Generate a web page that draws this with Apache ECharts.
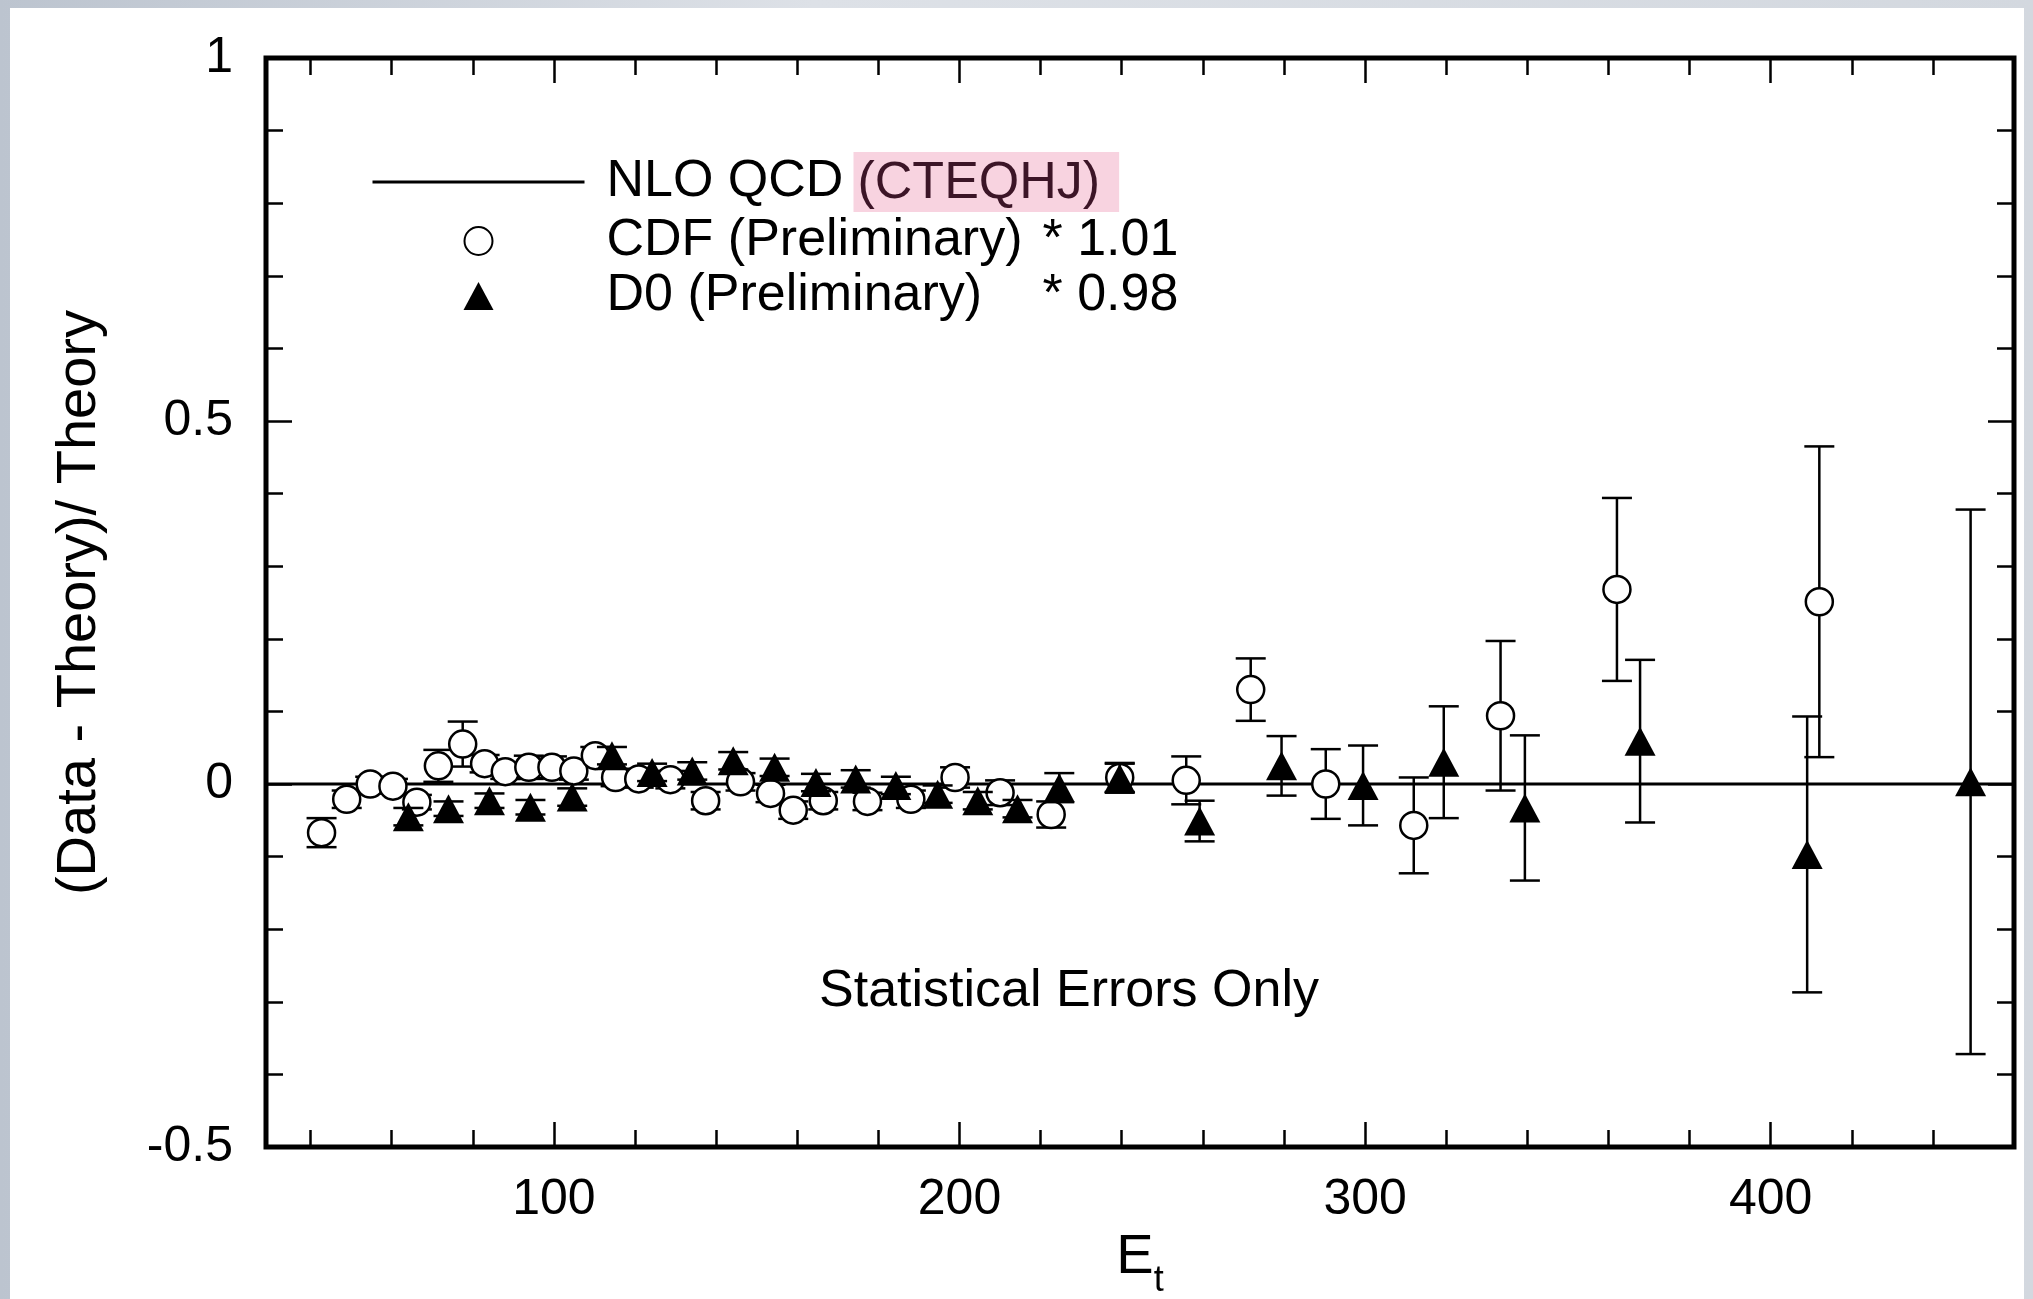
<!DOCTYPE html>
<html>
<head>
<meta charset="utf-8">
<title>(Data - Theory)/ Theory</title>
<script src="https://cdn.jsdelivr.net/npm/echarts@6/dist/echarts.min.js"></script>
<style>
    html, body { margin: 0; padding: 0; width: 2033px; height: 1299px; overflow: hidden; background: linear-gradient(to right, #bcc4cf, #dde1e7 40%, #d3d8df); }
    #paper { position: absolute; left: 10px; top: 8px; width: 2014px; height: 1291px; background: #fff; }
    #main { position: absolute; left: 0; top: 0; width: 2033px; height: 1299px; }
</style>
</head>
<body>
<div id="paper"></div>
<div id="main"></div>
<script>
const font = 'Liberation Sans, Arial, Helvetica, sans-serif'

// NLO QCD 理论线
const theoryEt = [29, 460]
const theoryVal = [0, 0]

// CDF (Preliminary) * 1.01
const cdfEt = [42.7, 48.9, 54.7, 60.3, 66.2, 71.5, 77.5, 82.9, 88.0, 93.8, 99.5, 104.9, 110.2, 115.2, 120.9, 128.7, 137.4, 146.0, 153.4, 159.0, 166.4, 177.3, 188.0, 198.9, 210.0, 222.6, 239.5, 255.9, 271.8, 290.3, 312.0, 333.4, 362.1, 412.0]
const cdfVal = [-0.067, -0.021, 0.0, -0.003, -0.025, 0.025, 0.055, 0.028, 0.017, 0.023, 0.023, 0.018, 0.039, 0.009, 0.007, 0.006, -0.023, 0.003, -0.013, -0.036, -0.023, -0.024, -0.021, 0.009, -0.012, -0.042, 0.009, 0.005, 0.13, 0.0, -0.057, 0.094, 0.268, 0.251]
const cdfErr = [0.02, 0.012, 0.01, 0.01, 0.01, 0.022, 0.031, 0.012, 0.01, 0.016, 0.015, 0.012, 0.012, 0.012, 0.012, 0.012, 0.012, 0.012, 0.012, 0.012, 0.012, 0.012, 0.012, 0.014, 0.017, 0.018, 0.02, 0.033, 0.043, 0.048, 0.066, 0.103, 0.126, 0.214]

// D0 (Preliminary) * 0.98
const d0Et = [64.1, 74.0, 84.1, 94.2, 104.5, 114.3, 124.2, 134.1, 144.2, 154.4, 164.6, 174.4, 184.3, 194.6, 204.5, 214.3, 224.6, 239.5, 259.2, 279.4, 299.5, 319.4, 339.4, 367.8, 409.0, 449.3]
const d0Val = [-0.045, -0.034, -0.023, -0.032, -0.018, 0.039, 0.016, 0.018, 0.032, 0.023, 0.002, 0.007, -0.002, -0.014, -0.023, -0.034, -0.005, 0.008, -0.051, 0.025, -0.002, 0.03, -0.033, 0.059, -0.097, 0.003]
const d0Err = [0.012, 0.01, 0.01, 0.01, 0.012, 0.012, 0.012, 0.012, 0.012, 0.012, 0.012, 0.012, 0.012, 0.012, 0.012, 0.012, 0.02, 0.02, 0.028, 0.041, 0.055, 0.077, 0.1, 0.112, 0.19, 0.375]

// 刻度
const xMajorTicks = [100, 200, 300, 400]
const xMinorTicks = [40, 60, 80, 120, 140, 160, 180, 220, 240, 260, 280, 320, 340, 360, 380, 420, 440]

const nameTheory = 'NLO QCD (CTEQHJ)'
const nameCdf = 'CDF (Preliminary) * 1.01'
const nameD0 = 'D0 (Preliminary) * 0.98'

const legendText = {}
legendText[nameTheory] = '{g| }{n|NLO QCD }{h|(CTEQHJ)}'
legendText[nameCdf] = '{g| }{a|CDF (Preliminary)}{b|* 1.01}'
legendText[nameD0] = '{g| }{a|D0 (Preliminary)}{b|* 0.98}'

function errorBar(params, api) {
    const x = api.value(0)
    const y = api.value(1)
    const e = api.value(2)
    const hi = api.coord([x, y + e])
    const lo = api.coord([x, y - e])
    const w = 15
    const style = { stroke: '#000', lineWidth: 2.5 }
    return {
        type: 'group',
        children: [
            { type: 'line', shape: { x1: hi[0], y1: hi[1], x2: lo[0], y2: lo[1] }, style: style },
            { type: 'line', shape: { x1: hi[0] - w, y1: hi[1], x2: hi[0] + w, y2: hi[1] }, style: style },
            { type: 'line', shape: { x1: lo[0] - w, y1: lo[1], x2: lo[0] + w, y2: lo[1] }, style: style }
        ]
    }
}

const tickLine = { color: '#000', width: 2.5 }
const gridBox = { left: 266, right: 19, top: 58, bottom: 152, outerBoundsMode: 'none', containLabel: false }

// x 轴：主刻度 / 次刻度分在两个重合的 grid 上
function xAxisOf(grid, pos, ticks, len) {
    return {
        gridIndex: grid,
        type: 'value',
        position: pos,
        min: 29,
        max: 460,
        axisLine: { show: false, onZero: false },
        axisTick: { inside: true, length: len, customValues: ticks, lineStyle: tickLine },
        axisLabel: { show: false },
        splitLine: { show: false }
    }
}

const xBottom = xAxisOf(0, 'bottom', xMajorTicks, 25)
xBottom.axisLabel = { show: true, customValues: xMajorTicks, fontFamily: font, fontSize: 50, color: '#000', margin: 28 }
xBottom.name = '{e|E}{s|t}'
xBottom.nameLocation = 'middle'
xBottom.nameGap = 84
xBottom.nameTextStyle = {
    rich: {
        e: { fontFamily: font, fontSize: 56, lineHeight: 56, color: '#000', padding: [0, 0, 26, 0] },
        s: { fontFamily: font, fontSize: 36, lineHeight: 34, color: '#000', verticalAlign: 'bottom' }
    }
}

function yAxisOf(pos) {
    return {
        gridIndex: 0,
        type: 'value',
        position: pos,
        min: -0.5,
        max: 1,
        interval: 0.5,
        axisLine: { show: false, onZero: false },
        axisTick: { inside: true, length: 26, lineStyle: tickLine },
        minorTick: { show: true, splitNumber: 5, length: 17, lineStyle: tickLine },
        axisLabel: { show: false },
        splitLine: { show: false },
        minorSplitLine: { show: false }
    }
}

const yLeft = yAxisOf('left')
yLeft.axisLabel = { show: true, fontFamily: font, fontSize: 50, color: '#000', margin: 33 }
yLeft.name = '(Data - Theory)/ Theory'
yLeft.nameLocation = 'middle'
yLeft.nameGap = 158
yLeft.nameTextStyle = { fontFamily: font, fontSize: 56, color: '#000' }

const chart = echarts.init(document.getElementById('main'), null, { renderer: 'canvas' })

const option = {
    animation: false,
    backgroundColor: 'transparent',
    grid: [
        Object.assign({ show: true, borderWidth: 5, borderColor: '#000', backgroundColor: 'transparent' }, gridBox),
        Object.assign({ show: false }, gridBox)
    ],
    legend: {
        left: 366,
        top: 147,
        orient: 'vertical',
        itemWidth: 212,
        itemHeight: 28,
        itemGap: 3,
        selectedMode: false,
        data: [{
            name: nameTheory,
            itemStyle: { color: 'rgba(0,0,0,0)', borderColor: 'rgba(0,0,0,0)', borderWidth: 0 },
            lineStyle: { color: '#000', width: 3 }
        }, {
            name: nameCdf
        }, {
            name: nameD0,
            icon: 'path://M15,0L30,28L0,28Z'
        }],
        formatter: function (n) {
            return legendText[n]
        },
        textStyle: {
            fontFamily: font,
            fontSize: 52,
            color: '#000',
            rich: {
                g: { width: 17, fontSize: 52 },
                n: { fontFamily: font, fontSize: 52, color: '#000', width: 247 },
                h: { fontFamily: font, fontSize: 52, color: '#3c1527', backgroundColor: '#f8d3e0', padding: [6, 19, 2, 4] },
                a: { fontFamily: font, fontSize: 52, color: '#000', width: 436 },
                b: { fontFamily: font, fontSize: 52, color: '#000' }
            }
        }
    },
    graphic: [{
        type: 'text',
        x: 1069,
        y: 992,
        style: {
            text: 'Statistical Errors Only',
            font: '52px ' + font,
            fill: '#000',
            align: 'center',
            verticalAlign: 'middle'
        }
    }],
    xAxis: [
        xBottom,
        xAxisOf(0, 'top', xMajorTicks, 25),
        xAxisOf(1, 'bottom', xMinorTicks, 17),
        xAxisOf(1, 'top', xMinorTicks, 17)
    ],
    yAxis: [
        yLeft,
        yAxisOf('right'),
        { gridIndex: 1, type: 'value', min: -0.5, max: 1, show: false }
    ],
    series: [{
        name: nameTheory,
        type: 'line',
        xAxisIndex: 0,
        yAxisIndex: 0,
        data: theoryEt.map((x, i) => [x, theoryVal[i]]),
        symbol: 'none',
        lineStyle: { color: '#000', width: 3 },
        itemStyle: { color: '#000' },
        z: 1
    }, {
        name: 'cdf-err',
        type: 'custom',
        xAxisIndex: 0,
        yAxisIndex: 0,
        data: cdfEt.map((x, i) => [x, cdfVal[i], cdfErr[i]]),
        encode: { x: 0, y: 1 },
        renderItem: errorBar,
        z: 2
    }, {
        name: nameCdf,
        type: 'scatter',
        xAxisIndex: 0,
        yAxisIndex: 0,
        data: cdfEt.map((x, i) => [x, cdfVal[i]]),
        symbol: 'circle',
        symbolSize: 27,
        itemStyle: { color: '#fff', borderColor: '#000', borderWidth: 2.5, opacity: 1 },
        z: 3
    }, {
        name: 'd0-err',
        type: 'custom',
        xAxisIndex: 0,
        yAxisIndex: 0,
        data: d0Et.map((x, i) => [x, d0Val[i], d0Err[i]]),
        encode: { x: 0, y: 1 },
        renderItem: errorBar,
        z: 4
    }, {
        name: nameD0,
        type: 'scatter',
        xAxisIndex: 0,
        yAxisIndex: 0,
        data: d0Et.map((x, i) => [x, d0Val[i]]),
        symbol: 'triangle',
        symbolSize: [31, 29],
        itemStyle: { color: '#000', opacity: 1 },
        z: 5
    }]
}

chart.setOption(option)
</script>
</body>
</html>
